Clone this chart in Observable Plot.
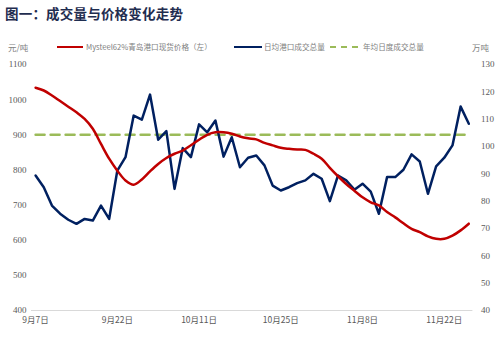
<!DOCTYPE html>
<html><head><meta charset="utf-8">
<script src="https://cdn.jsdelivr.net/npm/d3@7"></script>
<script src="https://cdn.jsdelivr.net/npm/@observablehq/plot@0.6"></script>
<style>
body{margin:0;background:#fff;font-family:"Noto Sans CJK SC",sans-serif;}
#wrap{position:relative;width:500px;height:355px;overflow:hidden;}
#title{position:absolute;left:5px;top:3px;font-size:13.5px;font-weight:bold;color:#1f2d50;letter-spacing:0.2px;}
#legend{position:absolute;left:0;top:39px;width:500px;height:16px;font-size:7.6px;color:#808080;}
#legend span{position:absolute;top:0;line-height:16px;white-space:nowrap;}
#legend .sw{position:absolute;top:7px;height:0;}
#chart{position:absolute;left:0;top:56px;}
</style></head>
<body><div id="wrap">
<div id="title">图一：成交量与价格变化走势</div>
<div id="legend">
<span style="left:8px;font-size:8.5px">元/吨</span>
<div class="sw" style="left:57px;width:26px;border-top:2.5px solid #c00000"></div>
<span style="left:86px">Mysteel62%青岛港口现货价格（左）</span>
<div class="sw" style="left:234px;width:28px;border-top:2.5px solid #002060"></div>
<span style="left:264px">日均港口成交总量</span>
<div class="sw" style="left:330px;width:28px;border-top:2.5px dashed #9bbb59"></div>
<span style="left:363px">年均日度成交总量</span>
<span style="left:472px;font-size:8.5px">万吨</span>
</div>
<div id="chart"></div>
</div>
<script>
// Mysteel 62% Qingdao port spot price (left axis, 元/吨)
const price = [1034,1026,1012,996,980,964,945,917,874,832,798,770,758,773,796,817,834,846,855,870,886,900,907,907,903,895,890,887,877,870,863,860,858,857,846,832,806,782,760,741,722,708,699,680,665,648,632,623,611,604,604,613,628,647];
// Daily average port trading volume (right axis, 万吨)
const volume = [89.4,85.1,78.4,75.4,73.2,71.7,73.5,72.9,78.4,73.5,91.2,96.1,111.3,109.8,119,102.5,105.6,84.5,99.4,96.1,108.1,105.2,109.5,96.3,103.4,92.4,95.9,96.7,93.1,85.7,83.9,85.1,86.6,87.6,90,88.2,80,89.4,87.6,84.2,86.4,83.5,75.4,88.8,88.8,91.5,97.1,94.5,82.7,92.7,95.9,100.4,114.6,108.3];
// Annual average daily trading volume (right axis)
const annualAvg = 104.3;
const leftTicks = [400,500,600,700,800,900,1000,1100];
const rightTicks = [40,50,60,70,80,90,100,110,120,130];
const tickIdx = [0,10,20,30,40,50];
const tickLabels = ["9月7日","9月22日","10月11日","10月25日","11月8日","11月22日"];

const toLeft = v => 400 + (v - 40) * 700 / 90;
const toRight = d => Math.round(40 + (d - 400) * 90 / 700);

const priceData = price.map((v,i)=>({i, v}));
const volData = volume.map((v,i)=>({i, v: toLeft(v)}));
const avgData = [{i:0, v:toLeft(annualAvg)},{i:volume.length-1, v:toLeft(annualAvg)}];

const fontFam = '"Liberation Serif","Noto Sans CJK SC",serif';
const chart = Plot.plot({
  width: 500, height: 299,
  marginLeft: 31, marginRight: 27.6, marginTop: 8, marginBottom: 45,
  style: {fontFamily: fontFam, fontSize: "9px", color: "#595959", background: "white"},
  x: {domain: [-0.5, volume.length - 0.5], axis: null},
  y: {domain: [400, 1100], axis: null},
  marks: [
    Plot.ruleY([400], {stroke: "#d9d9d9", strokeWidth: 1.2}),
    Plot.axisY({anchor: "left", ticks: leftTicks, tickSize: 0, tickPadding: 5, tickFormat: d => String(d), label: null, fontSize: 9, fill: "#595959"}),
    Plot.axisY({anchor: "right", ticks: rightTicks.map(toLeft), tickSize: 0, tickPadding: 8, tickFormat: toRight, label: null, fontSize: 9, fill: "#595959"}),
    Plot.axisX({ticks: tickIdx, tickFormat: (d)=>tickLabels[tickIdx.indexOf(d)], tickSize: 0, tickPadding: 6, label: null, fontSize: 8.5, fill: "#595959", fontFamily: '"Noto Sans CJK SC",sans-serif'}),
    Plot.line(avgData, {x: "i", y: "v", stroke: "#9bbb59", strokeWidth: 2.5, strokeDasharray: "9,6"}),
    Plot.line(volData, {x: "i", y: "v", stroke: "#002060", strokeWidth: 2.5}),
    Plot.line(priceData, {x: "i", y: "v", stroke: "#c00000", strokeWidth: 2.5, curve: "catmull-rom"})
  ]
});
document.getElementById("chart").append(chart);
</script>
</body></html>
